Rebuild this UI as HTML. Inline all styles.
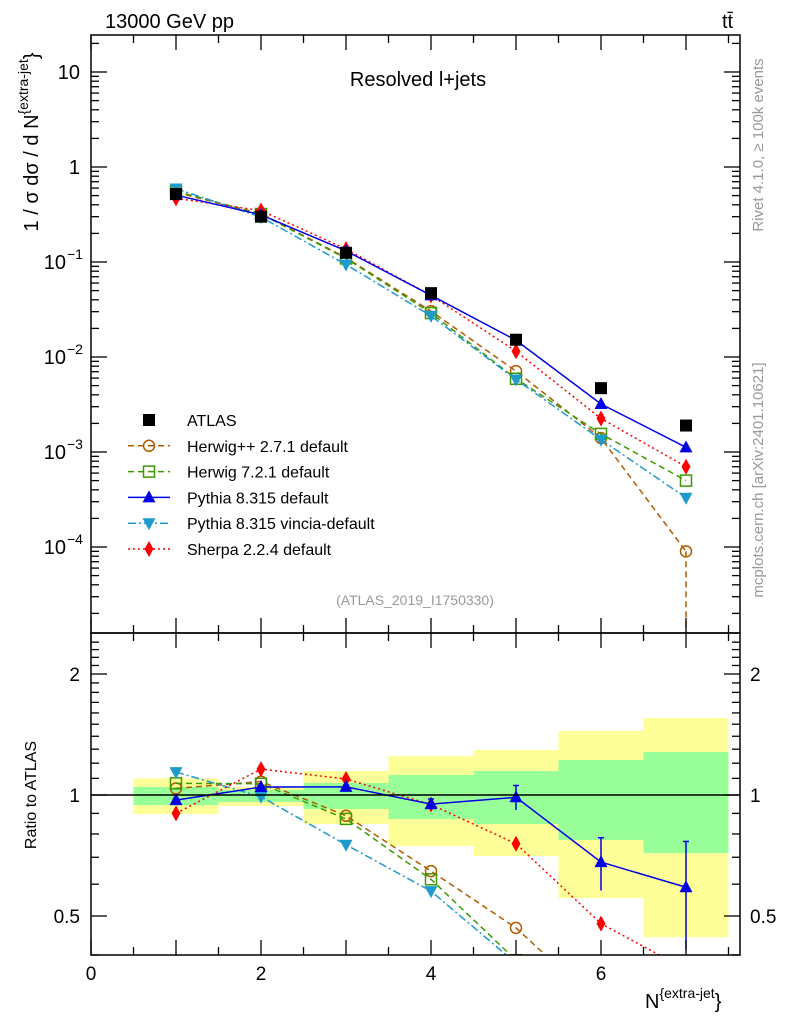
<!DOCTYPE html>
<html><head><meta charset="utf-8"><style>
html,body{margin:0;padding:0;background:#fff;width:786px;height:1024px;overflow:hidden;}
svg{display:block;position:absolute;left:0;top:0;font-family:"Liberation Sans",Arial,sans-serif;}
</style></head><body>
<svg id="c" width="786" height="1024" viewBox="0 0 786 1024" overflow="hidden" xmlns="http://www.w3.org/2000/svg">
<defs>
<clipPath id="cm"><rect x="91" y="35" width="649" height="598"/></clipPath>
<clipPath id="cr"><rect x="91" y="633" width="649" height="322"/></clipPath>
</defs>
<g id="bands" clip-path="url(#cr)"></g>
<g id="mainS" clip-path="url(#cm)"></g>
<g id="ratS" clip-path="url(#cr)"></g>
<g id="axes"></g>
<text x="105" y="28" font-size="20">13000 GeV pp</text>
<text x="722" y="28" font-size="20">tt̄</text>
<text x="418" y="86" font-size="20" text-anchor="middle">Resolved l+jets</text>
<text x="415" y="605" font-size="14" fill="#999" text-anchor="middle">(ATLAS_2019_I1750330)</text>
<text transform="translate(763,145) rotate(-90)" font-size="15" fill="#999" text-anchor="middle">Rivet 4.1.0, ≥ 100k events</text>
<text transform="translate(763,480) rotate(-90)" font-size="15" fill="#999" text-anchor="middle">mcplots.cern.ch [arXiv:2401.10621]</text>
<text transform="translate(38,142) rotate(-90)" font-size="20" text-anchor="middle">1 / σ dσ / d N<tspan dy="-10" font-size="14">{extra-jet</tspan><tspan dy="10" font-size="20">}</tspan></text>
<text transform="translate(36,795) rotate(-90)" font-size="16" text-anchor="middle">Ratio to ATLAS</text>
<text x="645" y="1008" font-size="20">N<tspan dy="-10" font-size="14">{extra-jet</tspan><tspan dy="10">}</tspan></text>
<g id="legend"></g>
<script>
const categories=[1,2,3,4,5,6,7];
const atlas=[0.52,0.30,0.125,0.047,0.0152,0.0047,0.0019];
const herwigpp=[0.54,0.324,0.111,0.0304,0.0071,0.0014,0.00009];
const herwig7=[0.556,0.32,0.109,0.029,0.0059,0.00155,0.0005];
const pythia=[0.505,0.314,0.131,0.0446,0.0150,0.0032,0.00112];
const vincia=[0.593,0.297,0.094,0.0271,0.0058,0.00135,0.00033];
const sherpa=[0.468,0.348,0.137,0.0445,0.0115,0.00225,0.0007];
const pythiaRelErr=[0.01,0.01,0.01,0.03,0.07,0.15,0.3];
const yellowHi=[1.10,1.047,1.147,1.25,1.294,1.443,1.554];
const yellowLo=[0.897,0.939,0.847,0.747,0.705,0.554,0.443];
const greenHi=[1.047,1.029,1.071,1.121,1.147,1.222,1.279];
const greenLo=[0.944,0.961,0.923,0.871,0.847,0.773,0.717];
const xTickLabels=[0,2,4,6];
const ratioTicks=[0.5,1,2];

const NS="http://www.w3.org/2000/svg";
const X=v=>91+85*v;
const Y=v=>167-95*Math.log10(v);
const R=v=>795-402*Math.log10(v);
function mk(tag,attrs,parent){const e=document.createElementNS(NS,tag);for(const k in attrs)e.setAttribute(k,attrs[k]);parent.appendChild(e);return e;}
const axes=document.getElementById('axes');
const bands=document.getElementById('bands');
categories.forEach((c,i)=>{
 let r=mk('rect',{x:X(c-0.5),y:R(yellowHi[i]),width:85,height:R(yellowLo[i])-R(yellowHi[i]),fill:'#ffff99'},bands);
 
 
 let g=mk('rect',{x:X(c-0.5),y:R(greenHi[i]),width:85,height:R(greenLo[i])-R(greenHi[i]),fill:'#99ff99'},bands);
 
 
});
mk('rect',{x:91,y:35,width:649,height:598,fill:'none',stroke:'#000','stroke-width':1.5},axes);
mk('rect',{x:91,y:633,width:649,height:322,fill:'none',stroke:'#000','stroke-width':1.5},axes);
mk('line',{x1:91,x2:740,y1:R(1),y2:R(1),stroke:'#000','stroke-width':1.5},axes);
for(let v=0;v<=7.5;v+=0.5){const big=Number.isInteger(v);const L=big?15:8;
 [[633,-1],[955,-1],[35,1],[633,1]].forEach(([y0,d])=>{mk('line',{x1:X(v),x2:X(v),y1:y0,y2:y0+d*L,stroke:'#000','stroke-width':1.3},axes);});}
xTickLabels.forEach(v=>{const t=mk('text',{x:X(v),y:980,'font-size':19,'text-anchor':'middle'},axes);t.textContent=v;
 
 });
for(let e=-5;e<=1;e++){for(let m=1;m<10;m++){const v=m*Math.pow(10,e);const y=Y(v);if(y<35||y>633)continue;const L=m===1?16:8;
 mk('line',{x1:91,x2:91+L,y1:y,y2:y,stroke:'#000','stroke-width':1.3},axes);
 mk('line',{x1:740,x2:740-L,y1:y,y2:y,stroke:'#000','stroke-width':1.3},axes);}}
const ylab=[[10,'10'],[1,'1']];
ylab.forEach(([v,s])=>{const t=mk('text',{x:80,y:Y(v)+7,'font-size':20,'text-anchor':'end'},axes);t.textContent=s;
 
 });
[-1,-2,-3,-4].forEach(e=>{const t=mk('text',{x:66,y:Y(Math.pow(10,e))+7,'font-size':20,'text-anchor':'end'},axes);t.textContent='10';
 
 
 const s=mk('text',{x:67,y:Y(Math.pow(10,e))-3,'font-size':14},axes);s.textContent='−'+(-e);});
for(let v=0.4;v<=2.5;v+=0.1){const y=R(v);if(y<633||y>955)continue;const big=[0.5,1,2].some(q=>Math.abs(q-v)<1e-6);const L=big?16:8;
 mk('line',{x1:91,x2:91+L,y1:y,y2:y,stroke:'#000','stroke-width':1.3},axes);
 mk('line',{x1:740,x2:740-L,y1:y,y2:y,stroke:'#000','stroke-width':1.3},axes);}
ratioTicks.forEach(v=>{[[80,'end'],[750,'start']].forEach(([x,a])=>{const t=mk('text',{x:x,y:R(v)+7,'font-size':19,'text-anchor':a},axes);t.textContent=v;
 
 });});

const series=[
 {name:'herwigpp',vals:herwigpp,col:'#b35a00',dash:'6,4',mk:'circle',label:'Herwig++ 2.7.1 default'},
 {name:'herwig7',vals:herwig7,col:'#3d9a00',dash:'6,4',mk:'square',label:'Herwig 7.2.1 default'},
 {name:'vincia',vals:vincia,col:'#1d9bcc',dash:'8,3,2,3',mk:'tridown',label:'Pythia 8.315 vincia-default'},
 {name:'sherpa',vals:sherpa,col:'#ff0000',dash:'2,3',mk:'diamond',label:'Sherpa 2.2.4 default'},
 {name:'pythia',vals:pythia,col:'#0000e6',dash:'',mk:'triup',label:'Pythia 8.315 default'}
];
function marker(type,x,y,col,parent,nm){let e;
 if(type==='circle')e=mk('circle',{cx:x,cy:y,r:5.5,fill:'none',stroke:col,'stroke-width':1.5},parent);
 else if(type==='square')e=mk('rect',{x:x-5.5,y:y-5.5,width:11,height:11,fill:'none',stroke:col,'stroke-width':1.5},parent);
 else if(type==='fsquare')e=mk('rect',{x:x-6,y:y-6,width:12,height:12,fill:col},parent);
 else if(type==='triup')e=mk('polygon',{points:`${x},${y-7} ${x-6.5},${y+5} ${x+6.5},${y+5}`,fill:col},parent);
 else if(type==='tridown')e=mk('polygon',{points:`${x},${y+7} ${x-6.5},${y-5} ${x+6.5},${y-5}`,fill:col},parent);
 else e=mk('polygon',{points:`${x},${y-8} ${x-4.5},${y} ${x},${y+8} ${x+4.5},${y}`,fill:col},parent);
 
 }
const mainS=document.getElementById('mainS'),ratS=document.getElementById('ratS');
series.forEach(s=>{
 const pm=categories.map((c,i)=>X(c)+','+Y(s.vals[i])).join(' ');
 const l=mk('polyline',{points:pm,fill:'none',stroke:s.col,'stroke-width':1.5,'stroke-dasharray':s.dash},mainS);
 
 
 const pr=categories.map((c,i)=>X(c)+','+R(s.vals[i]/atlas[i])).join(' ');
 const l2=mk('polyline',{points:pr,fill:'none',stroke:s.col,'stroke-width':1.5,'stroke-dasharray':s.dash},ratS);
 
 
 categories.forEach((c,i)=>{marker(s.mk,X(c),Y(s.vals[i]),s.col,mainS,s.name+'-point');
  marker(s.mk,X(c),R(s.vals[i]/atlas[i]),s.col,ratS,s.name+'-ratio-point');});
});
{const hv=herwigpp[6];mk('line',{x1:X(7),x2:X(7),y1:Y(hv),y2:633,stroke:'#b35a00','stroke-width':1.5,'stroke-dasharray':'6,4'},mainS);}
categories.forEach((c,i)=>{const r=pythia[i]/atlas[i],e=pythiaRelErr[i]*r;
 mk('line',{x1:X(c),x2:X(c),y1:R(r+e),y2:R(Math.max(r-e,0.3)),stroke:'#0000e6','stroke-width':1.5},ratS);
 mk('line',{x1:X(c)-3,x2:X(c)+3,y1:R(r+e),y2:R(r+e),stroke:'#0000e6','stroke-width':1.5},ratS);});
categories.forEach((c,i)=>marker('fsquare',X(c),Y(atlas[i]),'#000',mainS,'atlas-point'));
const leg=document.getElementById('legend');
const legItems=[{mk:'fsquare',col:'#000',dash:null,label:'ATLAS'}].concat([series[0],series[1],series[4],series[2],series[3]].map(s=>({mk:s.mk,col:s.col,dash:s.dash,label:s.label})));
legItems.forEach((it,k)=>{const y=420+25.8*k;
 if(it.dash!==null)mk('line',{x1:128,x2:170,y1:y,y2:y,stroke:it.col,'stroke-width':1.5,'stroke-dasharray':it.dash},leg);
 marker(it.mk,149,y,it.col,leg,'legend-marker');
 const t=mk('text',{x:187,y:y+6,'font-size':16},leg);t.textContent=it.label;
 
 });
</script>
</svg>
</body></html>
